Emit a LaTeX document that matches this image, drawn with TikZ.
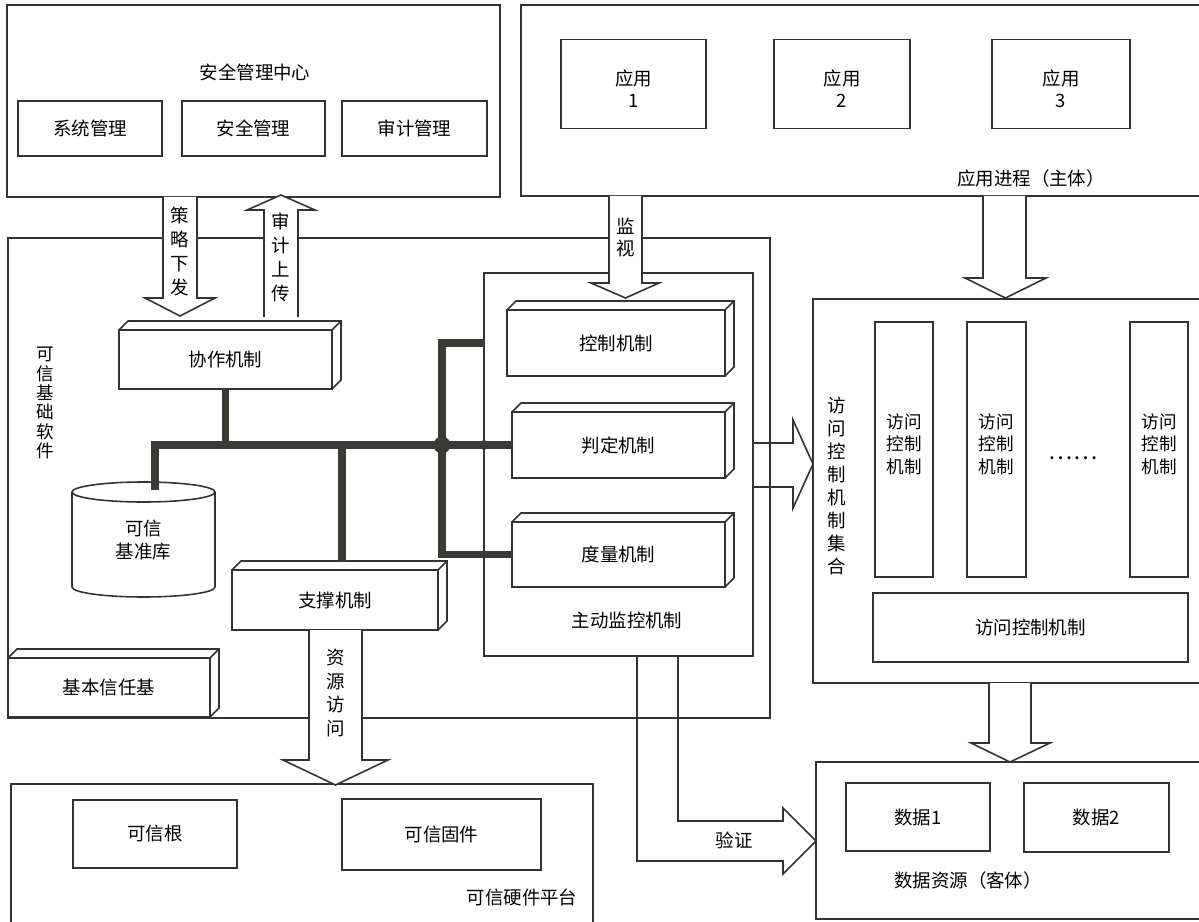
\documentclass[tikz,border=0pt]{standalone}
\usepackage{fontspec}
\setmainfont{Noto Sans CJK SC}
\usepackage{xcolor}
\usepackage{tikz}
\definecolor{linegray}{HTML}{333333}
\definecolor{busgray}{HTML}{3B3B36}

\begin{document}
\begin{tikzpicture}[x=0.02cm,y=-0.02cm,
	box/.style={draw=linegray,line width=0.9pt,inner sep=0pt,outer sep=0pt,align=center,font=\fontsize{10.5}{12.5}\selectfont},
	title/.style={inner sep=0pt,align=center,font=\fontsize{10.5}{13}\selectfont},
	bus/.style={draw=busgray,line width=4pt},
	blockarrow/.style={draw=linegray,line width=0.9pt,fill=white},
	thin/.style={draw=linegray,line width=0.9pt}]
			\useasboundingbox (0,0) rectangle (1199,922);
			\clip (0,0) rectangle (1199,922);
			\fill[white] (0,0) rectangle (1199,922);
			% outer frames
			\node[box,minimum width=9.86cm,minimum height=3.84cm] (mgmt) at (253.5,101) {};
			\node[box,minimum width=13.68cm,minimum height=3.82cm] (apps) at (863,100.5) {};
			\node[box,minimum width=15.24cm,minimum height=9.6cm] (base) at (389,478) {};
			\node[box,minimum width=5.38cm,minimum height=7.66cm] (monitor) at (618.5,464.5) {};
			\node[box,minimum width=7.84cm,minimum height=7.68cm] (acset) at (1009,491) {};
			\node[box,minimum width=11.64cm,minimum height=2.92cm] (hw) at (302,857) {};
			\node[box,minimum width=7.78cm,minimum height=3.14cm] (data) at (1010.5,840.5) {};
			% frame titles
			\node[title] (mgmttitle) at (255,72) {安全管理中心};
			\node[title] (appstitle) at (1031,178) {应用进程（主体）};
			\node[title,font=\fontsize{10}{11}\selectfont] (basetitle) at (45,403) {可\\信\\基\\础\\软\\件};
			\node[title] (montitle) at (627,620) {主动监控机制};
			\node[title,font=\fontsize{10.5}{13.1}\selectfont] (acsettitle) at (837,486) {访\\问\\控\\制\\机\\制\\集\\合};
			\node[title] (hwtitle) at (522,897) {可信硬件平台};
			\node[title] (datatitle) at (968,880) {数据资源（客体）};
			% plain boxes
			\node[box,minimum width=2.88cm,minimum height=1.1cm] (sysm) at (90,128.5) {系统管理};
			\node[box,minimum width=2.86cm,minimum height=1.1cm] (secm) at (253.5,128.5) {安全管理};
			\node[box,minimum width=2.9cm,minimum height=1.1cm] (audm) at (414.5,128.5) {审计管理};
			\foreach \i/\x/\w in {1/633.5/2.9cm,2/842/2.72cm,3/1061/2.76cm}
			\node[box,minimum width=\w,minimum height=1.78cm,label={[title,font=\fontsize{10.5}{12.5}\selectfont,yshift=-0.1cm]center:应用\\\i}] (app\i) at (\x,84) {};
			\foreach \i/\x in {1/904,2/996.5,3/1159}
			\node[box,minimum width=1.17cm,minimum height=5.1cm,label={[title,font=\fontsize{10}{12.8}\selectfont,yshift=0.11cm]center:访问\\控制\\机制}] (acm\i) at (\x,449.5) {};
			\node[title,font=\fontsize{13}{13}\selectfont] (dots) at (1073,458) {……};
			\node[box,minimum width=6.3cm,minimum height=1.38cm] (acm) at (1030.5,627.5) {访问控制机制};
			\node[box,minimum width=2.88cm,minimum height=1.36cm] (data1) at (918,817) {数据1};
			\node[box,minimum width=2.9cm,minimum height=1.38cm] (data2) at (1096.5,817.5) {数据2};
			\node[box,minimum width=3.28cm,minimum height=1.36cm] (root) at (155,834) {可信根};
			\node[box,minimum width=3.98cm,minimum height=1.42cm] (firm) at (441.5,834.5) {可信固件};
			% 3d boxes
			\node[box,minimum width=4.26cm,minimum height=1.18cm] (xiezuo) at (225.5,359.5) {协作机制};
			\node[box,minimum width=4.12cm,minimum height=1.2cm] (zhicheng) at (335,600) {支撑机制};
			\node[box,minimum width=4.04cm,minimum height=1.18cm] (jiben) at (109,687.5) {基本信任基};
			\node[box,minimum width=4.36cm,minimum height=1.32cm] (kongzhi) at (616,343) {控制机制};
			\node[box,minimum width=4.26cm,minimum height=1.32cm] (panding) at (618.5,445) {判定机制};
			\node[box,minimum width=4.26cm,minimum height=1.3cm] (duliang) at (618.5,554.5) {度量机制};
			\foreach \n in {xiezuo,zhicheng,jiben,kongzhi,panding,duliang}
			\draw[thin] (\n.north west) -- ([shift={(9,-9)}]\n.north west) -- ([shift={(9,-9)}]\n.north east) -- ([shift={(9,-9)}]\n.south east) -- (\n.south east) (\n.north east) -- ([shift={(9,-9)}]\n.north east);
			% database
			\draw[thin,fill=white] (72,492) -- (72,587) arc[start angle=180,end angle=360,x radius=1.43cm,y radius=0.2cm] -- (215,492);
			\draw[thin] (143.5,492) ellipse[x radius=1.43cm,y radius=0.2cm];
			\node[title] (jizhun) at (143.5,540) {可信\\基准库};
			% thick bus
			\coordinate (cyltop) at (155,490);
			\coordinate (zctop) at (342,562);
			\coordinate (vb) at (442,445);
			\draw[bus] (cyltop) |- (panding.west);
			\draw[bus] (xiezuo.south) -- (xiezuo.south |- panding.west);
			\draw[bus] (zctop) -- (zctop |- panding.west);
			\draw[bus] (kongzhi.west -| monitor.west) -| (vb) |- (duliang.west);
			\fill[busgray] (vb) circle[radius=0.17cm];
			\fill[busgray] (vb -| monitor.west) circle[radius=0.1cm];
			% block arrows
			\draw[blockarrow] (163,197) -- (163,298) -- (145,298) -- (180,316) -- (215,298) -- (197,298) -- (197,197);
			\draw[blockarrow] (264,317) -- (264,210) -- (247,210) -- (281,195) -- (315,210) -- (298,210) -- (298,317);
			\draw[blockarrow] (609,196) -- (609,283) -- (591,283) -- (625.5,298) -- (659,283) -- (642,283) -- (642,196);
			\draw[blockarrow] (983,196) -- (983,278) -- (965,278) -- (1005.5,298) -- (1046,278) -- (1026,278) -- (1026,196);
			\draw[blockarrow] (309,630) -- (309,760) -- (283,760) -- (335.5,785) -- (388,760) -- (362,760) -- (362,630);
			\draw[blockarrow] (989,683) -- (989,743) -- (971,743) -- (1010,762) -- (1050,743) -- (1031,743) -- (1031,683);
			\draw[thin] (753,443) -- (793,443) -- (793,420) -- (813,464) -- (793,508) -- (793,487) -- (753,487);
			\draw[thin] (637,656) |- (783,861) -- (783,874) -- (816,841) -- (783,808) -- (783,821) -| (678,656);
			% arrow texts
			\node[title,font=\fontsize{10.5}{13.8}\selectfont] (celve) at (180,251.5) {策\\略\\下\\发};
			\node[title,font=\fontsize{10.5}{13.5}\selectfont] (shangchuan) at (281,257.5) {审\\计\\上\\传};
			\node[title,font=\fontsize{10.5}{12}\selectfont] (jianshi) at (626,237.5) {监\\视};
			\node[title,font=\fontsize{10.5}{13.3}\selectfont] (ziyuan) at (335.5,693) {资\\源\\访\\问};
			\node[title] (yanzheng) at (734,840) {验证};
		\end{tikzpicture}
\end{document}
